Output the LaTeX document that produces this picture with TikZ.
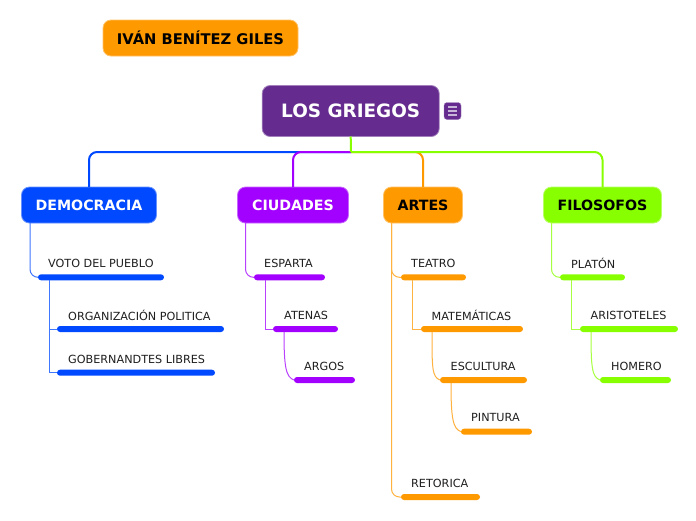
\documentclass[tikz,border=0pt]{standalone}
\usepackage{fontspec}
\setmainfont{DejaVu Sans}
\usetikzlibrary{positioning}
\definecolor{griego}{HTML}{652B8F}
\definecolor{demo}{HTML}{0049FF}
\definecolor{ciud}{HTML}{A200FF}
\definecolor{arte}{HTML}{FF9900}
\definecolor{filo}{HTML}{88FF00}
\tikzset{
  box/.style={rounded corners=8pt,inner sep=0pt,outer sep=0pt,line width=0.8pt,font=\bfseries\fontsize{14.2}{16}\selectfont},
  bar/.style={rounded corners=3pt,inner sep=0pt,outer sep=0pt,minimum height=6pt},
  lab/.style={anchor=west,inner sep=0pt,text=black!88,font=\fontsize{11.2}{13}\selectfont},
  main/.style={line width=2pt,rounded corners=8pt},
  sub/.style={line width=1pt,rounded corners=8pt},
  sq/.style={line width=1pt}
}

\begin{document}
\begin{tikzpicture}[x=1pt,y=-1pt]
\useasboundingbox (0,0) rectangle (696,520);
\fill[white] (0,0) rectangle (696,520);
%boxes
\node[box,fill=arte,draw=arte!60!white,minimum width=195pt,minimum height=36pt,text=black,font=\bfseries\fontsize{14.7}{16}\selectfont] (autor) at (200.5,38){IVÁN BENÍTEZ GILES};
\node[box,fill=griego,draw=griego!60!white,minimum width=177pt,minimum height=51pt,text=white,font=\bfseries\fontsize{18.4}{20}\selectfont] (griegos) at (350.7,111){LOS GRIEGOS};
\node[rounded corners=3pt,inner sep=0pt,fill=griego,draw=griego!60!white,minimum size=17pt] (menu) at (452.5,111){};
\draw[griego!35!white,line width=1.4pt] (448,107) -- (457,107);
\draw[griego!35!white,line width=1.4pt] (448,111) -- (457,111);
\draw[griego!35!white,line width=1.4pt] (448,115) -- (457,115);
\node[box,fill=demo,draw=demo!60!white,minimum width=135pt,minimum height=36pt,text=white] (democracia) at (89,205){DEMOCRACIA};
\node[box,fill=ciud,draw=ciud!60!white,minimum width=111pt,minimum height=36pt,text=white] (ciudades) at (293,205){CIUDADES};
\node[box,fill=arte,draw=arte!60!white,minimum width=79pt,minimum height=36pt,text=black] (artes) at (423,205){ARTES};
\node[box,fill=filo,draw=filo!60!white,minimum width=118pt,minimum height=36pt,text=black] (filosofos) at (602.5,205){FILOSOFOS};
\coordinate (hub) at (351,152);
%bars
\node[bar,fill=demo,minimum width=126pt] (voto) at (101,277.3){};
\node[bar,fill=demo,minimum width=167pt] (organizacion) at (140.5,329){};
\node[bar,fill=demo,minimum width=158pt] (gobernandtes) at (136,372.7){};
\node[bar,fill=ciud,minimum width=71pt] (esparta) at (289.5,277.3){};
\node[bar,fill=ciud,minimum width=65pt] (atenas) at (305.5,329){};
\node[bar,fill=ciud,minimum width=61pt] (argos) at (324.5,380){};
\node[bar,fill=arte,minimum width=65pt] (teatro) at (433.5,277.3){};
\node[bar,fill=arte,minimum width=102pt] (matematicas) at (472,329){};
\node[bar,fill=arte,minimum width=87pt] (escultura) at (483.5,380){};
\node[bar,fill=arte,minimum width=71pt] (pintura) at (496.5,431.7){};
\node[bar,fill=arte,minimum width=79pt] (retorica) at (440.5,497){};
\node[bar,fill=filo,minimum width=65pt] (platon) at (592.5,277.3){};
\node[bar,fill=filo,minimum width=98pt] (aristoteles) at (629,329){};
\node[bar,fill=filo,minimum width=71pt] (homero) at (635.5,380){};
%labels
\node[lab] (votolab) at (48,263.5){VOTO DEL PUEBLO};
\node[lab] (organizacionlab) at (68,315.5){ORGANIZACIÓN POLITICA};
\node[lab] (gobernandteslab) at (68,359.5){GOBERNANDTES LIBRES};
\node[lab] (espartalab) at (264,263.5){ESPARTA};
\node[lab] (atenaslab) at (284,315.5){ATENAS};
\node[lab] (argoslab) at (304,366.5){ARGOS};
\node[lab] (teatrolab) at (411,263.5){TEATRO};
\node[lab] (matematicaslab) at (431.5,315.5){MATEMÁTICAS};
\node[lab] (esculturalab) at (450.5,366.5){ESCULTURA};
\node[lab] (pinturalab) at (471,417.5){PINTURA};
\node[lab] (retoricalab) at (411,483.5){RETORICA};
\node[lab] (platonlab) at (571,263.5){PLATÓN};
\node[lab] (aristoteleslab) at (590.5,315.5){ARISTOTELES};
\node[lab] (homerolab) at (611,366.5){HOMERO};
%main branches
\draw[main,demo] (hub) -| (democracia.north);
\draw[main,ciud] (hub) -| (ciudades.north);
\draw[main,arte] (hub) -| (artes.north);
\draw[main,filo] (hub) -| (filosofos.north);
\draw[line width=2pt,filo] (griegos.south) -- (hub);
%sub branches
\draw[sub,demo!75!white] (democracia.south west) ++(8.5,0) |- (voto.west);
\draw[sub,ciud!75!white] (ciudades.south west) ++(8,0) |- (esparta.west);
\draw[sub,arte!75!white] (artes.south west) ++(8,0) |- (teatro.west);
\draw[sub,arte!75!white] (artes.south west) ++(8,0) |- (retorica.west);
\draw[sub,filo!75!white] (filosofos.south west) ++(8,0) |- (platon.west);
%square ones
\draw[sq,demo!75!white] (voto.south west) ++(11,0) |- (organizacion.west);
\draw[sq,demo!75!white] (voto.south west) ++(11,0) |- (gobernandtes.west);
\draw[sq,ciud!75!white] (esparta.south west) ++(11,0) |- (atenas.west);
\draw[sq,arte!75!white] (teatro.south west) ++(11,0) |- (matematicas.west);
\draw[sq,filo!75!white] (platon.south west) ++(11,0) |- (aristoteles.west);
%curved ones
\draw[sq,ciud!75!white] (atenas.south west) ++(11,0) .. controls +(0,36) and +(-8,-3) .. (argos.west);
\draw[sq,arte!75!white] (matematicas.south west) ++(11,0) .. controls +(0,36) and +(-8,-3) .. (escultura.west);
\draw[sq,arte!75!white] (escultura.south west) ++(11,0) .. controls +(0,36) and +(-8,-3) .. (pintura.west);
\draw[sq,filo!75!white] (aristoteles.south west) ++(11,0) .. controls +(0,36) and +(-8,-3) .. (homero.west);
\end{tikzpicture}
\end{document}
